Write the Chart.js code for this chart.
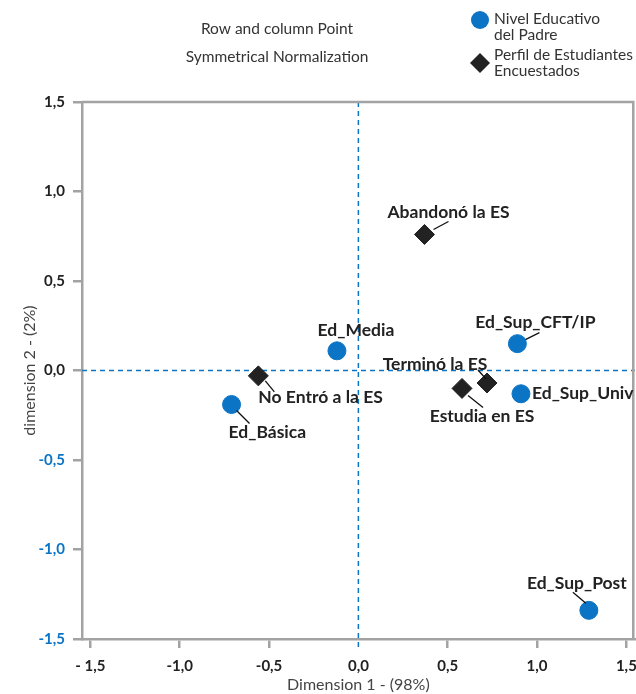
<!DOCTYPE html>
<html>
<head>
<meta charset="utf-8">
<script src="https://cdn.jsdelivr.net/npm/chart.js@4.4.1/dist/chart.umd.min.js"></script>
<style>
  body{margin:0;background:#fff;}
  #wrap{width:636px;height:694px;overflow:hidden;}
  #myChart{display:block;}
</style>
</head>
<body>
<div id="wrap"><canvas id="myChart" width="636" height="694"></canvas></div>
<script>
// datos del grafico (row and column points)
var titleLines=["Row and column Point","Symmetrical Normalization"];
var seriesNames=[["Nivel Educativo","del Padre"],["Perfil de Estudiantes","Encuestados"]];

var nivelLabels=["Ed_Básica","Ed_Media","Ed_Sup_CFT/IP","Ed_Sup_Univ","Ed_Sup_Post"];
var nivelX=[-0.71,-0.12,0.89,0.91,1.29];
var nivelY=[-0.19,0.11,0.15,-0.13,-1.34];

var perfilLabels=["No Entró a la ES","Abandonó la ES","Estudia en ES","Terminó la ES"];
var perfilX=[-0.56,0.37,0.58,0.72];
var perfilY=[-0.03,0.76,-0.10,-0.07];

var xTicks=[-1.5,-1.0,-0.5,0,0.5,1.0,1.5];
var yTicks=[-1.5,-1.0,-0.5,0,0.5,1.0,1.5];
var xTitle="Dimension 1 - (98%)";
var yTitle="dimension 2 - (2%)";

var blue="#0b74c4";
var dark="#222222";
var gray="#a3a3a3";

// where each label sits, relative to its point (px): text offset, align, leader line
var nivelLabelPos=[
    {dx:-3,dy:28,align:"left",line:[5,6,18,19]},
    {dx:19,dy:-20,align:"center"},
    {dx:18,dy:-21,align:"center",line:[8,-4,22,-11]},
    {dx:11,dy:0,align:"left"},
    {dx:-12,dy:-27,align:"center",line:[-16,-18,-3,-7]}
];
var perfilLabelPos=[
    {dx:0,dy:21,align:"left",line:[7,5,16,16]},
    {dx:24,dy:-22,align:"center",line:[9,-5,24,-13]},
    {dx:20,dy:28,align:"center",line:[6,7,21,19]},
    {dx:-52,dy:-19,align:"center",line:[-9,-13,-1,-4]}
];

function toPoints(xs,ys){
    var pts=[];
    for(var i=0;i<xs.length;i++){
        pts.push({x:xs[i],y:ys[i]});
    }
    return pts;
}

function fmt(v){
    var s=Math.abs(v).toFixed(1).replace(".",",");
    return v<0 ? "-"+s : s;
}

var font="Lato, 'Open Sans', sans-serif";

// lineas de cero, marco, etiquetas, titulo y leyenda
var extras={
    id:"extras",
    beforeDatasetsDraw:function(chart){
        var ctx=chart.ctx;
        var a=chart.chartArea;
        var x0=chart.scales.x.getPixelForValue(0);
        var y0=chart.scales.y.getPixelForValue(0);
        ctx.save();
        ctx.strokeStyle=blue;
        ctx.lineWidth=1.5;
        ctx.setLineDash([5,4]);
        ctx.beginPath();
        ctx.moveTo(x0,a.top);
        ctx.lineTo(x0,a.bottom+9);
        ctx.moveTo(a.left,y0);
        ctx.lineTo(a.right,y0);
        ctx.stroke();
        ctx.setLineDash([]);
        // top and right part of the frame
        ctx.strokeStyle=gray;
        ctx.lineWidth=2.5;
        ctx.beginPath();
        ctx.moveTo(a.left,a.top);
        ctx.lineTo(a.right-1.5,a.top);
        ctx.lineTo(a.right-1.5,a.bottom);
        ctx.stroke();
        ctx.restore();
    },
    afterDraw:function(chart){
        var ctx=chart.ctx;
        ctx.save();
        drawLabels(chart,0,nivelLabels,nivelLabelPos);
        drawLabels(chart,1,perfilLabels,perfilLabelPos);

        ctx.fillStyle="#333";
        ctx.font="15.5px "+font;
        ctx.textAlign="center";
        ctx.textBaseline="middle";
        ctx.fillText(titleLines[0],277,29);
        ctx.fillText(titleLines[1],277,57);

        // legend
        ctx.fillStyle=blue;
        ctx.beginPath();
        ctx.arc(480,20,9,0,Math.PI*2);
        ctx.fill();
        ctx.fillStyle=dark;
        ctx.beginPath();
        ctx.moveTo(480,53);
        ctx.lineTo(490,63);
        ctx.lineTo(480,73);
        ctx.lineTo(470,63);
        ctx.closePath();
        ctx.fill();
        ctx.fillStyle="#333";
        ctx.textAlign="left";
        ctx.fillText(seriesNames[0][0],494,19);
        ctx.fillText(seriesNames[0][1],494,35);
        ctx.fillText(seriesNames[1][0],494,55);
        ctx.fillText(seriesNames[1][1],494,71);
        ctx.restore();
    }
};

function drawLabels(chart,dsIndex,names,pos){
    var ctx=chart.ctx;
    var meta=chart.getDatasetMeta(dsIndex);
    ctx.font="bold 17.5px "+font;
    ctx.textBaseline="middle";
    for(var i=0;i<names.length;i++){
        var p=meta.data[i];
        var o=pos[i];
        if(o.line){
            ctx.strokeStyle="#111";
            ctx.lineWidth=1.3;
            ctx.beginPath();
            ctx.moveTo(p.x+o.line[0],p.y+o.line[1]);
            ctx.lineTo(p.x+o.line[2],p.y+o.line[3]);
            ctx.stroke();
        }
        ctx.fillStyle=dark;
        ctx.textAlign=o.align;
        ctx.fillText(names[i],p.x+o.dx,p.y+o.dy);
    }
}

function makeConfig(){
    return {
    type:"scatter",
    data:{
        datasets:[
            {
                label:seriesNames[0].join(" "),
                data:toPoints(nivelX,nivelY),
                backgroundColor:blue,
                borderColor:blue,
                pointStyle:"circle",
                pointRadius:9,
                pointHoverRadius:9,
                clip:false
            },
            {
                label:seriesNames[1].join(" "),
                data:toPoints(perfilX,perfilY),
                backgroundColor:dark,
                borderColor:dark,
                pointStyle:"rectRot",
                pointRadius:10,
                pointHoverRadius:10,
                clip:false
            }
        ]
    },
    options:{
        responsive:false,
        animation:false,
        devicePixelRatio:1,
        layout:{padding:{top:102,right:1,left:0,bottom:0}},
        plugins:{
            legend:{display:false},
            tooltip:{enabled:false}
        },
        scales:{
            x:{
                type:"linear",
                min:-1.547,
                max:1.547,
                afterBuildTicks:function(scale){
                    scale.ticks=xTicks.map(function(v){return {value:v};});
                },
                afterFit:function(scale){
                    scale.height=55;
                },
                border:{display:true,color:gray,width:2.5},
                grid:{
                    drawOnChartArea:false,
                    drawTicks:true,
                    tickLength:9,
                    lineWidth:2.5,
                    color:function(c){return c.tick && c.tick.value===0 ? "rgba(0,0,0,0)" : gray;}
                },
                ticks:{
                    padding:9,
                    maxRotation:0,
                    autoSkip:false,
                    color:dark,
                    font:{family:font,size:15,weight:"bold"},
                    callback:function(v){
                        if(v===-1.5) return "- 1,5";
                        return fmt(v);
                    }
                },
                title:{
                    display:true,
                    text:xTitle,
                    color:"#444",
                    padding:{top:0,bottom:0},
                    font:{family:font,size:16}
                }
            },
            y:{
                type:"linear",
                min:-1.5,
                max:1.5,
                afterBuildTicks:function(scale){
                    scale.ticks=yTicks.map(function(v){return {value:v};});
                },
                afterFit:function(scale){
                    scale.width=82;
                    scale.paddingTop=0;
                    scale.paddingBottom=0;
                },
                border:{display:true,color:gray,width:2.5},
                grid:{
                    drawOnChartArea:false,
                    drawTicks:true,
                    tickLength:9,
                    lineWidth:2.5,
                    color:gray
                },
                ticks:{
                    padding:8,
                    autoSkip:false,
                    color:function(c){return c.tick.value<0 ? blue : dark;},
                    font:{family:font,size:15,weight:"bold"},
                    callback:function(v){return fmt(v);}
                },
                title:{
                    display:true,
                    text:yTitle,
                    color:"#444",
                    padding:{top:20,bottom:0},
                    font:{family:font,size:16}
                }
            }
        }
    },
    plugins:[extras]
    };
}

var canvas=document.getElementById("myChart");
var myChart=new Chart(canvas.getContext("2d"),makeConfig());
// the last tick label eats some room on the right; widen the canvas (the wrapper clips it)
// so the plot frame ends at x=635 like in the original
var extra=635-myChart.chartArea.right;
if(Math.abs(extra)>0.5){
    myChart.destroy();
    canvas.width=Math.round(636+extra);
    canvas.height=694;
    myChart=new Chart(canvas.getContext("2d"),makeConfig());
}
</script>
</body>
</html>
